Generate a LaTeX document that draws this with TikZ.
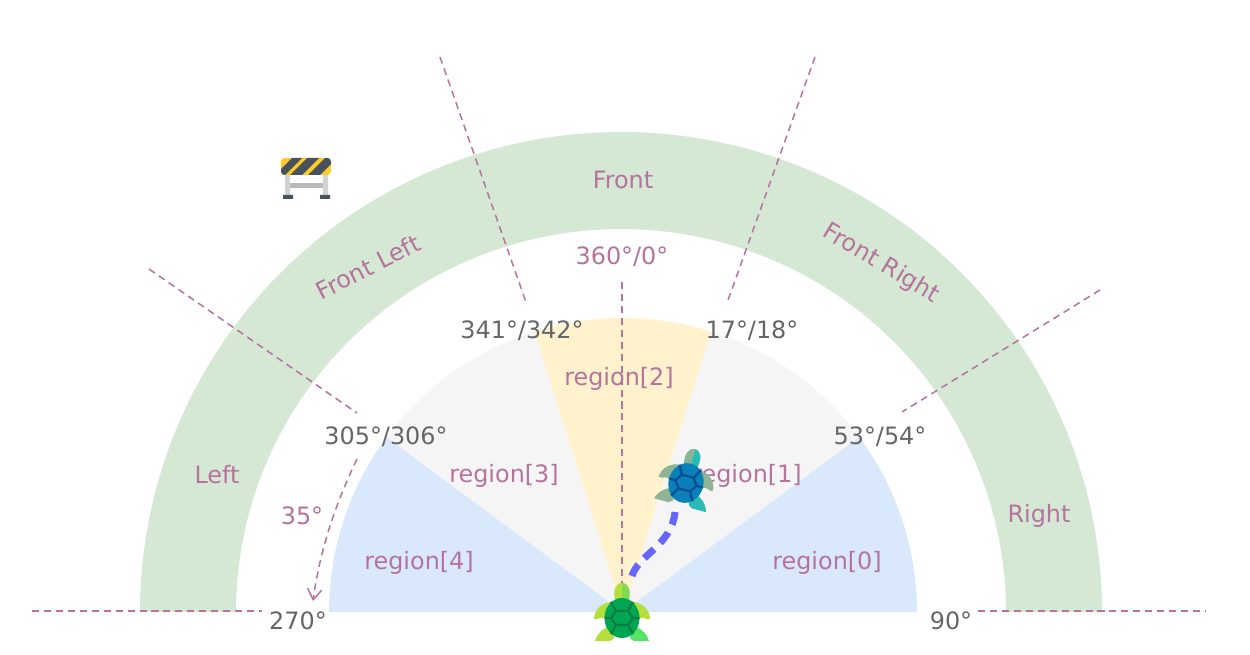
\documentclass[tikz,border=0pt]{standalone}
\usepackage{fontspec}
\setmainfont{DejaVu Sans}
\usetikzlibrary{arrows.meta}
\definecolor{mauve}{HTML}{B5739D}
\definecolor{greytxt}{HTML}{666666}
\definecolor{bandgreen}{HTML}{D5E8D4}
\definecolor{secblue}{HTML}{DAE8FC}
\definecolor{secyellow}{HTML}{FFF2CC}
\definecolor{secgrey}{HTML}{F5F5F5}
\definecolor{trail}{HTML}{6666FF}
\definecolor{glime}{HTML}{B5DF3C}
\definecolor{gmint}{HTML}{57E366}
\definecolor{ghead}{HTML}{7FDC50}
\definecolor{gshell}{HTML}{00A651}
\definecolor{gdark}{HTML}{0B7F42}
\definecolor{bsage}{HTML}{8FB395}
\definecolor{bteal}{HTML}{2CBAB5}
\definecolor{bshell}{HTML}{0A80B8}
\definecolor{bdark}{HTML}{0A4F96}
\definecolor{bary}{HTML}{FFCA28}
\definecolor{bard}{HTML}{47525C}
\definecolor{barl}{HTML}{D2D2D2}
\definecolor{barm}{HTML}{BABABA}
\tikzset{
  x=0.02cm,y=-0.02cm,
  lab/.style={font=\fontsize{13.6pt}{16pt}\selectfont,text=mauve,inner sep=0pt},
  ang/.style={font=\fontsize{13.6pt}{16pt}\selectfont,text=greytxt,inner sep=0pt},
  guide/.style={draw=mauve,line width=0.85pt,dash pattern=on 4pt off 2.8pt},
}
\newcommand{\mysector}[3]{\fill[#1] (623,612) -- plot[domain=#2:#3,samples=50,smooth] ({623+294*sin(\x)},{612-294*cos(\x)}) -- cycle;}
\newcommand{\myturtle}[8]{%
 \begin{scope}[shift={(#1,#2)},rotate=#3]
  \fill[#4] (0,-16) -- (0,-35) .. controls (-7,-35) and (-9,-27) .. (-7,-18) -- cycle;
  \fill[#8] (0,-16) -- (0,-35) .. controls (7,-35) and (9,-27) .. (7,-18) -- cycle;
  \fill[#4] (-10,-16) .. controls (-20,-16) and (-28,-8) .. (-28,1) -- (-24,1) .. controls (-22,-1) and (-18,-1) .. (-12,3) -- cycle;
  \fill[#4] (10,-16) .. controls (20,-16) and (28,-8) .. (28,1) -- (24,1) .. controls (22,-1) and (18,-1) .. (12,3) -- cycle;
  \fill[#4] (-12,8) .. controls (-18,10) and (-24,14) .. (-27,23) -- (-12,23) .. controls (-6,21) and (-6,15) .. (-12,8) -- cycle;
  \fill[#5] (12,8) .. controls (18,10) and (24,14) .. (27,23) -- (12,23) .. controls (6,21) and (6,15) .. (12,8) -- cycle;
  \fill[#6] (0,0) ellipse [x radius=17.5,y radius=20];
  \draw[#7,line width=1.3pt] (-6,-7) -- (6,-7) -- (11,0) -- (6,7) -- (-6,7) -- (-11,0) -- cycle
    (-6,-7) -- (-11,-16) (6,-7) -- (11,-16) (-6,7) -- (-11,16) (6,7) -- (11,16) (-11,0) -- (-17.5,0) (11,0) -- (17.5,0);
 \end{scope}}
\begin{document}
\begin{tikzpicture}
\useasboundingbox (0,0) rectangle (1250,655);
\fill[white] (0,0) rectangle (1250,655);
\fill[bandgreen] plot[domain=-90:90,samples=120,smooth] ({621+481*sin(\x)},{612-480*cos(\x)})
  -- plot[domain=90:-90,samples=120,smooth] ({621+385*sin(\x)},{612-383*cos(\x)}) -- cycle;
\mysector{secblue}{-90}{-53.5}
\mysector{secgrey}{-53.5}{-17.5}
\mysector{secyellow}{-17.5}{17.5}
\mysector{secgrey}{17.5}{53.5}
\mysector{secblue}{53.5}{90}
\coordinate (g1a) at (440,57);  \coordinate (g1b) at (527,305);
\coordinate (g2a) at (815,57);  \coordinate (g2b) at (727,303);
\coordinate (g3a) at (149,269); \coordinate (g3b) at (357,413);
\coordinate (g4a) at (1100,290);\coordinate (g4b) at (902,412);
\coordinate (g5a) at (32,611);  \coordinate (g5b) at (262,611);
\coordinate (g6a) at (978,611); \coordinate (g6b) at (1206,611);
\coordinate (g7a) at (622,282); \coordinate (g7b) at (622,590);
\foreach \n in {1,...,7}{\draw[guide] (g\n a) -- (g\n b);}
\node[lab] (front) at (623,180) {Front};
\node[lab,rotate=-31] (fright) at (881,264) {Front Right};
\node[lab,rotate=27] (fleft) at (368,267) {Front Left};
\node[lab] (left) at (217,475) {Left};
\node[lab] (right) at (1039,516) {Right};
\node[lab] (top) at (622,257) {360°/0°};
\node[lab] (r0) at (827,563) {region[0]};
\node[lab] (r1) at (747,476) {region[1]};
\node[lab] (r2) at (619,379) {region[2]};
\node[lab] (r3) at (504,476) {region[3]};
\node[lab] (r4) at (419,563) {region[4]};
\node[lab] (d35) at (302,516) {35°};
\node[ang] (a1) at (522,331) {341°/342°};
\node[ang] (a2) at (752,331) {17°/18°};
\node[ang] (a3) at (386,437) {305°/306°};
\node[ang] (a4) at (880,437) {53°/54°};
\node[ang] (a5) at (298,621) {270°};
\node[ang] (a6) at (951,621) {90°};
\coordinate (arrA) at (357,459);
\coordinate (arrB) at (313,601);
\draw[guide,-{Straight Barb[length=6pt,width=8pt,line width=0.85pt]}] (arrA) .. controls (335,505) and (320,550) .. (arrB);
\coordinate (trA) at (632,576);
\coordinate (trB) at (675,512);
\draw[draw=trail,line width=4pt,dash pattern=on 7.5pt off 5pt] (trA) .. controls (638,555) and (672,545) .. (trB);
\myturtle{622}{618}{0}{glime}{gmint}{gshell}{gdark}{ghead}
\myturtle{686}{483}{-15}{bsage}{bteal}{bshell}{bdark}{bteal}
\fill[barl] (285,175) rectangle (290,195) (323,175) rectangle (328,195);
\fill[barm] (290,183) rectangle (323,188);
\fill[bard] (283,195) rectangle (293,199) (320,195) rectangle (330,199);
\begin{scope}
  \clip[rounded corners=2pt] (281,158) rectangle (331,175);
  \fill[bary] (281,158) rectangle (331,175);
  \fill[bard] (292,158) -- (302,158) -- (285,175) -- (275,175) -- cycle
    (307,158) -- (319,158) -- (302,175) -- (290,175) -- cycle
    (325,158) -- (337,158) -- (320,175) -- (308,175) -- cycle;
\end{scope}
\end{tikzpicture}
\end{document}
